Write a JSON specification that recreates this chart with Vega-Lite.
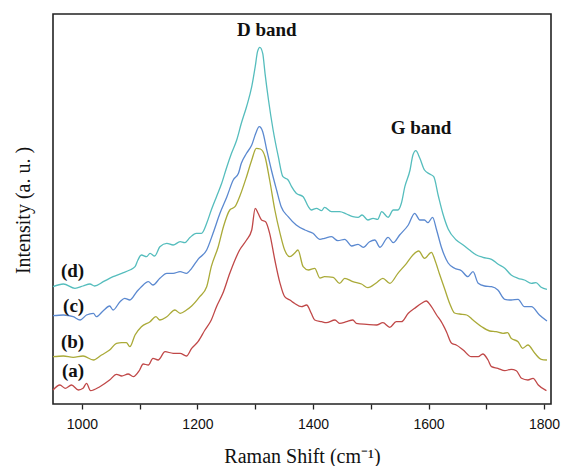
{
  "$schema": "https://vega.github.io/schema/vega-lite/v6.json",
  "autosize": {"type": "none"},
  "padding": {"left": 53, "top": 14, "right": 12, "bottom": 62},
  "width": 498,
  "height": 390,
  "background": "white",
  "config": {
    "view": {"stroke": "#222222", "strokeWidth": 1.6},
    "font": "Liberation Serif"
  },
  "datasets": {
    "spectra": [
      {"s":"a","x":950,"y":14},{"s":"a","x":962,"y":19},{"s":"a","x":971,"y":15.7},{"s":"a","x":982,"y":19},{"s":"a","x":994,"y":14},{"s":"a","x":1002,"y":15.7},{"s":"a","x":1008,"y":20.7},{"s":"a","x":1015,"y":13.3},{"s":"a","x":1031,"y":17.3},{"s":"a","x":1048,"y":24},{"s":"a","x":1060,"y":29.7},{"s":"a","x":1069,"y":28},{"s":"a","x":1080,"y":30},{"s":"a","x":1089,"y":27.3},{"s":"a","x":1100,"y":34},{"s":"a","x":1106,"y":40},{"s":"a","x":1115,"y":39},{"s":"a","x":1123,"y":45.7},{"s":"a","x":1132,"y":44},{"s":"a","x":1144,"y":52.3},{"s":"a","x":1158,"y":50.7},{"s":"a","x":1170,"y":50.7},{"s":"a","x":1181,"y":48},{"s":"a","x":1190,"y":55.7},{"s":"a","x":1201,"y":62.3},{"s":"a","x":1213,"y":74},{"s":"a","x":1224,"y":84},{"s":"a","x":1233,"y":97.3},{"s":"a","x":1244,"y":110.7},{"s":"a","x":1256,"y":130.7},{"s":"a","x":1265,"y":144},{"s":"a","x":1273,"y":154},{"s":"a","x":1285,"y":164},{"s":"a","x":1294,"y":174},{"s":"a","x":1300,"y":195.7},{"s":"a","x":1305,"y":190.7},{"s":"a","x":1311,"y":184},{"s":"a","x":1318,"y":182.3},{"s":"a","x":1325,"y":170.7},{"s":"a","x":1334,"y":144},{"s":"a","x":1343,"y":120.7},{"s":"a","x":1351,"y":107.3},{"s":"a","x":1360,"y":104},{"s":"a","x":1368,"y":100.7},{"s":"a","x":1380,"y":97.3},{"s":"a","x":1389,"y":99},{"s":"a","x":1397,"y":90.7},{"s":"a","x":1403,"y":84},{"s":"a","x":1415,"y":82.3},{"s":"a","x":1423,"y":81.3},{"s":"a","x":1438,"y":84},{"s":"a","x":1446,"y":80.7},{"s":"a","x":1458,"y":82.3},{"s":"a","x":1469,"y":84},{"s":"a","x":1475,"y":80.7},{"s":"a","x":1493,"y":79.7},{"s":"a","x":1510,"y":79},{"s":"a","x":1521,"y":81.3},{"s":"a","x":1533,"y":76.7},{"s":"a","x":1544,"y":82.3},{"s":"a","x":1553,"y":82.3},{"s":"a","x":1565,"y":90.7},{"s":"a","x":1576,"y":95.7},{"s":"a","x":1588,"y":100.7},{"s":"a","x":1596,"y":103},{"s":"a","x":1605,"y":97.3},{"s":"a","x":1614,"y":89},{"s":"a","x":1622,"y":82.3},{"s":"a","x":1631,"y":72.3},{"s":"a","x":1640,"y":60.7},{"s":"a","x":1648,"y":59},{"s":"a","x":1660,"y":54},{"s":"a","x":1674,"y":47.3},{"s":"a","x":1686,"y":47.3},{"s":"a","x":1694,"y":50},{"s":"a","x":1703,"y":44},{"s":"a","x":1709,"y":37.3},{"s":"a","x":1720,"y":35.7},{"s":"a","x":1732,"y":33.3},{"s":"a","x":1743,"y":34.7},{"s":"a","x":1752,"y":33.3},{"s":"a","x":1761,"y":25.7},{"s":"a","x":1772,"y":24},{"s":"a","x":1781,"y":25.7},{"s":"a","x":1790,"y":19},{"s":"a","x":1804,"y":13.3},

      {"s":"b","x":950,"y":47.3},{"s":"b","x":968,"y":48},{"s":"b","x":985,"y":46.7},{"s":"b","x":1002,"y":48},{"s":"b","x":1020,"y":44},{"s":"b","x":1034,"y":49},{"s":"b","x":1048,"y":54},{"s":"b","x":1060,"y":60.7},{"s":"b","x":1069,"y":61.3},{"s":"b","x":1077,"y":61.3},{"s":"b","x":1083,"y":57.3},{"s":"b","x":1092,"y":69},{"s":"b","x":1103,"y":77.3},{"s":"b","x":1118,"y":82.3},{"s":"b","x":1128,"y":87.3},{"s":"b","x":1135,"y":84},{"s":"b","x":1147,"y":87.3},{"s":"b","x":1161,"y":94},{"s":"b","x":1170,"y":90.7},{"s":"b","x":1181,"y":94},{"s":"b","x":1190,"y":98},{"s":"b","x":1204,"y":107.3},{"s":"b","x":1216,"y":117.3},{"s":"b","x":1224,"y":137.3},{"s":"b","x":1236,"y":157.3},{"s":"b","x":1245,"y":177.3},{"s":"b","x":1256,"y":194},{"s":"b","x":1265,"y":197.3},{"s":"b","x":1273,"y":207.3},{"s":"b","x":1285,"y":227.3},{"s":"b","x":1294,"y":244},{"s":"b","x":1302,"y":255.7},{"s":"b","x":1309,"y":255},{"s":"b","x":1317,"y":247.3},{"s":"b","x":1325,"y":224},{"s":"b","x":1334,"y":194},{"s":"b","x":1343,"y":170.7},{"s":"b","x":1351,"y":154},{"s":"b","x":1360,"y":147.3},{"s":"b","x":1368,"y":150.7},{"s":"b","x":1374,"y":154},{"s":"b","x":1383,"y":137.3},{"s":"b","x":1392,"y":134},{"s":"b","x":1403,"y":135.7},{"s":"b","x":1412,"y":126},{"s":"b","x":1420,"y":127.3},{"s":"b","x":1435,"y":126.7},{"s":"b","x":1446,"y":120.7},{"s":"b","x":1455,"y":125.7},{"s":"b","x":1469,"y":122.3},{"s":"b","x":1484,"y":120},{"s":"b","x":1495,"y":116.3},{"s":"b","x":1510,"y":121.3},{"s":"b","x":1521,"y":125.7},{"s":"b","x":1533,"y":120.7},{"s":"b","x":1547,"y":130.7},{"s":"b","x":1562,"y":140.7},{"s":"b","x":1573,"y":149},{"s":"b","x":1583,"y":153},{"s":"b","x":1593,"y":145.7},{"s":"b","x":1605,"y":151.7},{"s":"b","x":1611,"y":144},{"s":"b","x":1619,"y":130},{"s":"b","x":1628,"y":115},{"s":"b","x":1637,"y":100},{"s":"b","x":1645,"y":91},{"s":"b","x":1654,"y":90},{"s":"b","x":1666,"y":89},{"s":"b","x":1677,"y":84},{"s":"b","x":1692,"y":77.3},{"s":"b","x":1706,"y":73},{"s":"b","x":1717,"y":72.3},{"s":"b","x":1729,"y":70.7},{"s":"b","x":1737,"y":71.3},{"s":"b","x":1743,"y":65.7},{"s":"b","x":1755,"y":62.3},{"s":"b","x":1763,"y":55.7},{"s":"b","x":1772,"y":59},{"s":"b","x":1784,"y":50.7},{"s":"b","x":1795,"y":44.7},{"s":"b","x":1805,"y":44},

      {"s":"c","x":950,"y":88.3},{"s":"c","x":968,"y":89},{"s":"c","x":985,"y":87.3},{"s":"c","x":997,"y":84},{"s":"c","x":1008,"y":89},{"s":"c","x":1020,"y":90.7},{"s":"c","x":1025,"y":87.3},{"s":"c","x":1037,"y":93.3},{"s":"c","x":1048,"y":98},{"s":"c","x":1054,"y":94},{"s":"c","x":1066,"y":102.3},{"s":"c","x":1074,"y":105.7},{"s":"c","x":1083,"y":104},{"s":"c","x":1095,"y":112.3},{"s":"c","x":1103,"y":117.3},{"s":"c","x":1115,"y":122.3},{"s":"c","x":1123,"y":119},{"s":"c","x":1135,"y":125.7},{"s":"c","x":1147,"y":130.7},{"s":"c","x":1158,"y":130.7},{"s":"c","x":1170,"y":132.3},{"s":"c","x":1181,"y":130.7},{"s":"c","x":1190,"y":135.7},{"s":"c","x":1201,"y":144.7},{"s":"c","x":1216,"y":154},{"s":"c","x":1227,"y":170.7},{"s":"c","x":1239,"y":190.7},{"s":"c","x":1251,"y":207.3},{"s":"c","x":1262,"y":224},{"s":"c","x":1271,"y":230.7},{"s":"c","x":1276,"y":240.7},{"s":"c","x":1285,"y":250.7},{"s":"c","x":1294,"y":259},{"s":"c","x":1301,"y":270.7},{"s":"c","x":1307,"y":277.3},{"s":"c","x":1313,"y":272.3},{"s":"c","x":1320,"y":254},{"s":"c","x":1328,"y":234},{"s":"c","x":1337,"y":214},{"s":"c","x":1345,"y":197.3},{"s":"c","x":1357,"y":187.3},{"s":"c","x":1371,"y":179},{"s":"c","x":1386,"y":174},{"s":"c","x":1400,"y":170.7},{"s":"c","x":1412,"y":164.7},{"s":"c","x":1420,"y":165.7},{"s":"c","x":1432,"y":167.3},{"s":"c","x":1443,"y":163.3},{"s":"c","x":1455,"y":164.7},{"s":"c","x":1467,"y":158},{"s":"c","x":1478,"y":159.7},{"s":"c","x":1487,"y":156.7},{"s":"c","x":1498,"y":162.3},{"s":"c","x":1507,"y":164},{"s":"c","x":1516,"y":156.7},{"s":"c","x":1530,"y":166.7},{"s":"c","x":1539,"y":161.3},{"s":"c","x":1550,"y":169},{"s":"c","x":1565,"y":179},{"s":"c","x":1576,"y":190.7},{"s":"c","x":1585,"y":184},{"s":"c","x":1593,"y":184},{"s":"c","x":1599,"y":181.3},{"s":"c","x":1607,"y":186.7},{"s":"c","x":1614,"y":174},{"s":"c","x":1622,"y":157.3},{"s":"c","x":1634,"y":141},{"s":"c","x":1645,"y":135.7},{"s":"c","x":1657,"y":133.3},{"s":"c","x":1668,"y":127.3},{"s":"c","x":1677,"y":132.3},{"s":"c","x":1686,"y":120.7},{"s":"c","x":1697,"y":118},{"s":"c","x":1709,"y":117.3},{"s":"c","x":1720,"y":114},{"s":"c","x":1732,"y":104.7},{"s":"c","x":1743,"y":104},{"s":"c","x":1755,"y":104.7},{"s":"c","x":1766,"y":97.3},{"s":"c","x":1778,"y":97.3},{"s":"c","x":1792,"y":89},{"s":"c","x":1805,"y":83},

      {"s":"d","x":950,"y":117.3},{"s":"d","x":968,"y":120},{"s":"d","x":988,"y":115.7},{"s":"d","x":1002,"y":118},{"s":"d","x":1014,"y":120},{"s":"d","x":1022,"y":118},{"s":"d","x":1037,"y":122.3},{"s":"d","x":1054,"y":127.3},{"s":"d","x":1069,"y":130.7},{"s":"d","x":1083,"y":134},{"s":"d","x":1092,"y":137.3},{"s":"d","x":1097,"y":144},{"s":"d","x":1103,"y":149},{"s":"d","x":1112,"y":147.3},{"s":"d","x":1118,"y":150.7},{"s":"d","x":1126,"y":148},{"s":"d","x":1135,"y":157.3},{"s":"d","x":1147,"y":160.7},{"s":"d","x":1158,"y":159},{"s":"d","x":1170,"y":162.3},{"s":"d","x":1178,"y":161.3},{"s":"d","x":1187,"y":166.5},{"s":"d","x":1198,"y":170.7},{"s":"d","x":1207,"y":170.7},{"s":"d","x":1216,"y":180.7},{"s":"d","x":1224,"y":194},{"s":"d","x":1233,"y":207.3},{"s":"d","x":1242,"y":220.7},{"s":"d","x":1251,"y":237.3},{"s":"d","x":1259,"y":250.7},{"s":"d","x":1268,"y":264},{"s":"d","x":1276,"y":280.7},{"s":"d","x":1285,"y":297.3},{"s":"d","x":1294,"y":317.3},{"s":"d","x":1300,"y":337.3},{"s":"d","x":1304,"y":352.3},{"s":"d","x":1308,"y":356.7},{"s":"d","x":1313,"y":350.7},{"s":"d","x":1317,"y":330.7},{"s":"d","x":1323,"y":304},{"s":"d","x":1331,"y":274},{"s":"d","x":1340,"y":247.3},{"s":"d","x":1348,"y":227.3},{"s":"d","x":1357,"y":224},{"s":"d","x":1363,"y":217.3},{"s":"d","x":1371,"y":210.7},{"s":"d","x":1383,"y":207.3},{"s":"d","x":1392,"y":197.3},{"s":"d","x":1397,"y":194},{"s":"d","x":1406,"y":195.7},{"s":"d","x":1415,"y":193.3},{"s":"d","x":1420,"y":196.7},{"s":"d","x":1432,"y":192.3},{"s":"d","x":1446,"y":192.3},{"s":"d","x":1458,"y":190},{"s":"d","x":1469,"y":187.3},{"s":"d","x":1478,"y":186.7},{"s":"d","x":1485,"y":189},{"s":"d","x":1495,"y":184},{"s":"d","x":1504,"y":185.7},{"s":"d","x":1512,"y":184.7},{"s":"d","x":1519,"y":192.3},{"s":"d","x":1530,"y":186.7},{"s":"d","x":1539,"y":194},{"s":"d","x":1547,"y":194},{"s":"d","x":1553,"y":200.7},{"s":"d","x":1559,"y":217.3},{"s":"d","x":1568,"y":234},{"s":"d","x":1573,"y":249},{"s":"d","x":1578,"y":253.3},{"s":"d","x":1585,"y":245.7},{"s":"d","x":1593,"y":234},{"s":"d","x":1602,"y":230},{"s":"d","x":1609,"y":227.3},{"s":"d","x":1617,"y":208},{"s":"d","x":1625,"y":190},{"s":"d","x":1634,"y":175},{"s":"d","x":1648,"y":164},{"s":"d","x":1660,"y":159},{"s":"d","x":1671,"y":154},{"s":"d","x":1683,"y":149},{"s":"d","x":1694,"y":146.7},{"s":"d","x":1709,"y":144.7},{"s":"d","x":1720,"y":140},{"s":"d","x":1732,"y":135.7},{"s":"d","x":1743,"y":129},{"s":"d","x":1755,"y":125.7},{"s":"d","x":1766,"y":124},{"s":"d","x":1778,"y":120.7},{"s":"d","x":1786,"y":121.3},{"s":"d","x":1795,"y":116.7},{"s":"d","x":1805,"y":114.7}
    ],
    "bands": [
      {"label": "D band", "x": 1320, "y": 374},
      {"label": "G band", "x": 1587, "y": 276}
    ],
    "tags": [
      {"label": "(d)", "x": 1004, "y": 133.5},
      {"label": "(c)", "x": 1004, "y": 98.5},
      {"label": "(b)", "x": 1004, "y": 62.5},
      {"label": "(a)", "x": 1004, "y": 33}
    ]
  },
  "layer": [
    {
      "data": {"name": "spectra"},
      "mark": {"type": "line", "strokeWidth": 1.3, "interpolate": "monotone"},
      "encoding": {
        "x": {
          "field": "x", "type": "quantitative",
          "scale": {"domain": [950, 1812], "nice": false, "zero": false},
          "axis": {
            "values": [1000, 1100, 1200, 1300, 1400, 1500, 1600, 1700, 1800],
            "labelExpr": "datum.value % 200 === 0 ? datum.value : ''",
            "grid": false, "domain": false,
            "tickColor": "#222222", "tickSize": 5, "tickWidth": 1.3,
            "labelFont": "Liberation Sans", "labelFontSize": 14, "labelColor": "#111111",
            "labelPadding": 8, "labelFlush": false,
            "title": "Raman Shift (cm⁻¹)",
            "titleFont": "Liberation Serif", "titleFontSize": 20, "titleFontWeight": "normal",
            "titleColor": "#111111",
            "titleBaseline": "alphabetic", "titleY": 58
          }
        },
        "y": {
          "field": "y", "type": "quantitative",
          "scale": {"domain": [0, 390], "nice": false, "zero": false},
          "axis": {
            "labels": false, "ticks": false, "grid": false, "domain": false,
            "title": "Intensity (a. u. )",
            "titleFont": "Liberation Serif", "titleFontSize": 20, "titleFontWeight": "normal",
            "titleColor": "#111111",
            "titleAngle": -90, "titleX": -30, "titleY": 196,
            "titleAlign": "center", "titleBaseline": "middle"
          }
        },
        "color": {
          "field": "s", "type": "nominal",
          "scale": {"domain": ["a", "b", "c", "d"], "range": ["#c04848", "#aaaa38", "#5b89d0", "#55bdbd"]},
          "legend": null
        }
      }
    },
    {
      "data": {"name": "bands"},
      "mark": {"type": "text", "font": "Liberation Serif", "fontWeight": "bold", "fontSize": 19, "align": "center", "baseline": "middle", "color": "#111111"},
      "encoding": {
        "x": {"field": "x", "type": "quantitative"},
        "y": {"field": "y", "type": "quantitative"},
        "text": {"field": "label"}
      }
    },
    {
      "data": {"name": "tags"},
      "mark": {"type": "text", "font": "Liberation Serif", "fontWeight": "bold", "fontSize": 19, "align": "right", "baseline": "middle", "color": "#111111"},
      "encoding": {
        "x": {"field": "x", "type": "quantitative"},
        "y": {"field": "y", "type": "quantitative"},
        "text": {"field": "label"}
      }
    }
  ]
}
